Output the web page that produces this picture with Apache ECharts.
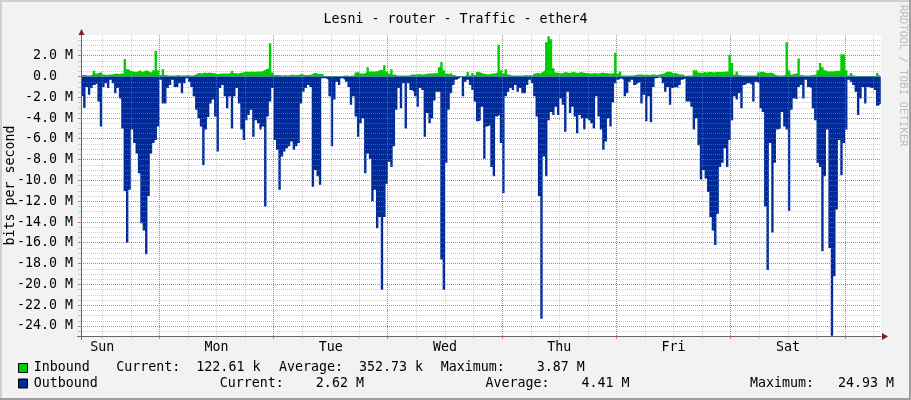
<!DOCTYPE html>
<html><head><meta charset="utf-8">
<script src="https://cdn.jsdelivr.net/npm/echarts@6/dist/echarts.min.js"></script>
<style>html,body{margin:0;padding:0;background:#F2F2F2}#c{width:911px;height:400px}</style>
</head><body><div id="c"></div><script>
// ---------- data ----------
const chartTitle = 'Lesni - router - Traffic - ether4';
const yAxisTitle = 'bits per second';
const watermark = 'RRDTOOL / TOBI OETIKER';
const dayLabels = ['Sun', 'Mon', 'Tue', 'Wed', 'Thu', 'Fri', 'Sat'];
const dayLabelHours = [12, 36, 60, 84, 108, 132, 156];     // noon of each day (hours after Sunday 00:00)
const midnightHours = [24, 48, 72, 96, 120, 144, 168];
const sixHourMarks = [12, 18, 30, 36, 42, 54, 60, 66, 78, 84, 90, 102, 108, 114, 126, 132, 138, 150, 156, 162, 174];
const viewStart = 7.55, viewEnd = 175.55;                   // hours after Sunday 00:00
const sampleStart = 7.5, sampleStep = 0.5;                  // 30-minute samples
// Inbound, Mbit/s
const inbound = [
0.15,0.15,0.1,0.1,0.2,0.55,0.3,0.4,0.4,0.2,
0.15,0.2,0.2,0.25,0.3,0.25,0.3,0.3,1.7,0.7,
0.55,0.5,0.45,0.5,0.6,0.45,0.55,0.6,0.45,0.4,
0.6,2.45,0.6,0.15,0.7,0.15,0.1,0.1,0.1,0.1,
0.15,0.1,0.1,0.1,0.15,0.1,0.1,0.15,0.3,0.35,
0.3,0.4,0.35,0.4,0.35,0.35,
0.25,0.25,0.3,0.3,0.3,0.3,0.35,0.55,0.35,0.3,
0.35,0.4,0.45,0.5,0.45,0.5,0.45,0.5,0.5,0.5,
0.6,0.7,0.8,3.2,0.4,0.15,0.15,0.15,0.1,0.15,
0.1,0.15,0.2,0.15,0.15,0.2,0.25,0.15,0.15,0.15,
0.2,0.35,0.35,0.25,0.25,0.25,0.05,0.05,0.05,0.05,
0.05,0.05,0.05,0.05,0.1,0.1,
0.05,0.1,0.1,0.4,0.5,0.3,0.3,0.4,0.9,0.5,
0.5,0.5,0.55,0.65,0.6,1.1,0.5,0.3,0.7,0.2,
0.1,0.1,0.1,0.1,0.1,0.1,0.2,0.2,0.2,0.25,
0.2,0.2,0.25,0.3,0.3,0.3,0.35,0.3,0.9,1.4,
0.6,0.3,0.25,0.4,0.15,0.05,0.05,0.05,0.05,0.1,
0.45,0.1,0.35,0.15,0.45,0.4,
0.3,0.25,0.2,0.25,0.3,0.3,0.4,3.05,0.6,0.3,
0.7,0.2,0.1,0.1,0.1,0.1,0.1,0.1,0.15,0.1,
0.15,0.1,0.3,0.35,0.3,0.45,0.6,3.3,3.87,3.6,
0.8,0.4,0.35,0.3,0.4,0.45,0.35,0.4,0.45,0.4,
0.35,0.45,0.4,0.35,0.35,0.3,0.3,0.35,0.3,0.3,
0.4,0.35,0.35,0.3,0.3,0.35,
2.3,0.3,0.5,0.1,0.1,0.1,0.1,0.1,0.15,0.2,
0.2,0.2,0.15,0.2,0.15,0.2,0.2,0.15,0.2,0.25,
0.3,0.45,0.5,0.45,0.3,0.35,0.25,0.2,0.2,0.05,
0.1,0.1,0.1,0.6,0.6,0.4,0.35,0.45,0.4,0.45,
0.45,0.4,0.45,0.45,0.45,0.45,0.5,0.5,2.1,1.3,
0.2,0.5,0.15,0.1,0.1,0.1,
0.1,0.1,0.1,0.1,0.4,0.5,0.45,0.35,0.35,0.4,
0.3,0.15,0.1,0.1,0.1,0.15,3.3,0.6,0.2,0.3,
0.3,1.75,0.15,0.1,0.1,0.1,0.15,0.15,0.25,0.6,
1.3,0.9,0.6,0.5,0.5,0.5,0.55,0.55,0.55,2.15,
2.1,0.6,0.1,0.35,0.1,0.05,0.05,0.05,0.05,0.05,
0.05,0.05,0.05,0.05,0.35,0.123
];
// Outbound, Mbit/s (drawn below zero)
const outbound = [
1.9,3.0,1.0,1.75,1.1,0.8,0.65,2.4,4.8,1.0,
0.65,1.1,0.3,0.65,1.6,1.1,2.1,5.0,11.0,16.0,
10.9,5.1,6.4,7.4,9.3,14.1,14.8,17.1,11.5,7.4,
6.4,6.1,4.8,0.3,2.6,2.6,1.1,0.8,0.3,1.0,
1.0,0.65,1.6,0.65,0.15,0.5,1.0,1.9,3.2,4.0,
4.8,8.5,5.1,3.9,2.6,2.2,
3.85,7.2,1.1,0.8,1.9,3.05,1.9,5.0,1.9,1.1,
2.6,5.1,6.1,4.2,3.7,3.2,5.8,4.2,4.5,5.1,
4.8,12.5,3.85,2.4,1.1,6.1,7.05,10.9,7.7,7.2,
6.9,6.7,6.25,7.05,6.7,6.4,2.6,1.45,1.1,0.8,
1.0,10.6,9.0,9.6,10.4,0.15,0.15,0.3,1.9,6.7,
2.2,0.5,0.8,0.15,0.3,0.5,
1.0,2.7,1.9,3.85,5.8,4.5,4.0,9.3,7.4,7.9,
12.0,10.9,14.6,13.5,20.5,13.5,10.3,8.2,8.7,6.7,
3.2,1.1,3.05,0.65,5.0,0.65,1.3,1.45,1.9,2.9,
1.1,1.3,5.8,3.5,4.5,4.0,2.3,1.45,1.45,17.6,
20.5,8.3,3.2,1.6,0.8,0.3,0.15,0.02,1.9,0.5,
0.3,0.8,1.3,2.4,4.3,4.2,
2.9,7.9,4.8,4.65,8.7,9.6,3.85,3.7,6.4,11.2,
1.9,1.45,1.1,1.3,0.8,1.45,1.1,1.6,1.6,0.8,
0.3,0.65,1.9,3.85,11.5,23.3,7.7,9.6,4.2,3.4,
3.7,2.9,3.7,2.1,2.7,5.3,1.45,3.5,2.9,3.85,
5.45,3.7,4.0,5.1,4.0,4.2,4.5,5.0,1.9,3.85,
5.1,7.05,6.25,4.0,4.8,2.5,
0.65,0.3,0.15,0.3,1.9,1.6,0.5,0.3,0.8,0.65,
0.5,2.6,1.75,4.3,1.9,4.4,1.0,0.15,0.06,0.15,
0.65,1.45,1.0,2.7,1.1,1.0,1.1,0.8,0.3,0.15,
2.4,2.4,2.9,5.1,4.0,6.6,9.9,9.0,9.8,11.1,
13.5,14.8,16.2,13.2,8.7,8.3,6.9,8.7,6.1,4.2,
1.9,2.2,1.6,3.05,0.8,0.65,
0.65,0.8,2.4,0.5,0.65,3.05,3.4,12.5,18.6,6.4,
15.0,8.3,5.1,5.0,3.4,4.8,5.1,12.9,3.2,2.1,
2.2,1.0,0.8,2.1,0.3,1.0,1.1,3.05,4.2,8.3,
8.7,16.8,9.6,5.1,16.5,24.93,19.2,12.8,6.1,9.5,
6.4,5.1,0.3,0.5,0.8,1.45,3.7,2.1,1.0,2.6,
1.0,1.1,1.1,1.3,2.8,2.62
];
const yMajorTicks = [2, 0, -2, -4, -6, -8, -10, -12, -14, -16, -18, -20, -22, -24];
const yMinorTicks = [3.5, 3, 2.5, 1.5, 1, 0.5, -0.5, -1, -1.5, -2.5, -3, -3.5, -4.5, -5, -5.5, -6.5, -7, -7.5,
  -8.5, -9, -9.5, -10.5, -11, -11.5, -12.5, -13, -13.5, -14.5, -15, -15.5, -16.5, -17, -17.5, -18.5, -19, -19.5,
  -20.5, -21, -21.5, -22.5, -23, -23.5, -24.5];
const yMin = -24.96, yMax = 4.0;
const legendRows = [
  { name: 'Inbound',  color: '#00CC00', current: 'Current:  122.61 k', average: 'Average:  352.73 k', maximum: 'Maximum:    3.87 M' },
  { name: 'Outbound', color: '#002A97', current: 'Current:    2.62 M', average: 'Average:    4.41 M', maximum: 'Maximum:   24.93 M' }
];

(function () {
// ---------- styles ----------
const FONT = 'DejaVu Sans Mono';
const FS = 13.3;
const minorColor = 'rgba(150,150,150,0.45)';
const majorColor = 'rgba(225,70,70,0.8)';
const axisColor = '#666';
const arrowColor = '#801F1F';

function toPairs(arr, sign) {
  const d = arr.map((v, i) => [sampleStart + i * sampleStep, sign * v]);
  d.push([sampleStart + arr.length * sampleStep, sign * arr[arr.length - 1]]);
  return d;
}

const chart = echarts.init(document.getElementById('c'), null, { renderer: 'canvas' });
const option = {
  animation: false,
  backgroundColor: '#F2F2F2',
  title: {
    text: chartTitle, left: 'center', top: 8,
    textStyle: { fontFamily: FONT, fontSize: FS, fontWeight: 'normal', color: '#000' }
  },
  grid: { left: 81, top: 35, width: 800, height: 301, show: true, backgroundColor: '#FFFFFF', borderWidth: 0, outerBoundsMode: 'none' },
  xAxis: [
    {
      type: 'value', min: viewStart, max: viewEnd, z: 10,
      axisLine: { show: true, onZero: false, lineStyle: { color: axisColor, width: 1 } },
      axisTick: { show: true, length: 3, customValues: sixHourMarks, lineStyle: { color: minorColor } },
      axisLabel: { show: true, customValues: dayLabelHours, margin: 5, fontFamily: FONT, fontSize: FS, color: '#000',
        formatter: v => dayLabels[Math.round((v - 12) / 24)] },
      splitLine: { show: true, lineStyle: { color: minorColor, width: 1, type: [1, 1] } }
    }
  ],
  yAxis: [
    {
      type: 'value', min: yMin, max: yMax, z: 10,
      axisLine: { show: true, onZero: false, lineStyle: { color: axisColor, width: 1 } },
      axisTick: { show: true, length: 3, customValues: yMinorTicks, lineStyle: { color: minorColor } },
      axisLabel: { show: false },
      splitLine: { show: true, lineStyle: { color: minorColor, width: 1, type: [1, 1] } }
    },
    {
      type: 'value', min: yMin, max: yMax, z: 10, position: 'left',
      axisLine: { show: false },
      axisTick: { show: false, customValues: yMajorTicks },
      axisLabel: { show: true, customValues: yMajorTicks, margin: 8, fontFamily: FONT, fontSize: FS, color: '#000',
        formatter: v => (Math.abs(v) < 1e-9 ? '0.0\u00a0\u00a0' : v.toFixed(1) + ' M') },
      splitLine: { show: false }
    }
  ],
  series: [
    { name: 'Inbound', type: 'line', xAxisIndex: 0, yAxisIndex: 0, step: 'end', data: toPairs(inbound, 1),
      symbol: 'none', showSymbol: false, silent: true, z: 2,
      lineStyle: { width: 0 }, areaStyle: { color: legendRows[0].color, opacity: 1, origin: 0 } },
    { name: 'Outbound', type: 'line', xAxisIndex: 0, yAxisIndex: 0, step: 'end', data: toPairs(outbound, -1),
      symbol: 'none', showSymbol: false, silent: true, z: 2,
      lineStyle: { width: 0 }, areaStyle: { color: legendRows[1].color, opacity: 1, origin: 0 } }
  ]
};
chart.setOption(option);

// decorations positioned through the chart's own scales
const px = (x, y) => chart.convertToPixel({ xAxisIndex: 0, yAxisIndex: 0 }, [x, y]);
const pTL = px(viewStart, yMax);
const pBR = px(viewEnd, yMin);
const gL = Math.round(pTL[0]), gT = Math.round(pTL[1]), gR = Math.round(pBR[0]), gB = Math.round(pBR[1]);
const txt = (t, x, y, extra) => ({ type: 'text', x: x, y: y, silent: true, z: 20,
  style: Object.assign({ text: t, fontFamily: FONT, fontSize: FS, fill: '#000', verticalAlign: 'middle', align: 'left' }, extra || {}) });

const graphics = [
  { type: 'rect', silent: true, shape: { x: 0, y: 0, width: 911, height: 2 }, style: { fill: '#CFCFCF' } },
  { type: 'rect', silent: true, shape: { x: 0, y: 0, width: 2, height: 400 }, style: { fill: '#CFCFCF' } },
  { type: 'rect', silent: true, shape: { x: 0, y: 398, width: 911, height: 2 }, style: { fill: '#9E9E9E' } },
  { type: 'rect', silent: true, shape: { x: 909, y: 0, width: 2, height: 400 }, style: { fill: '#9E9E9E' } }
];
// major grid (midnights and every 2 M), placed with the chart's scales
midnightHours.forEach(h => {
  const x = Math.floor(px(h, 0)[0]) + 0.5;
  graphics.push({ type: 'line', silent: true, z: 15, shape: { x1: x, y1: gT, x2: x, y2: gB }, style: { stroke: majorColor, lineWidth: 1, lineDash: [1, 1] } });
  graphics.push({ type: 'line', silent: true, z: 15, shape: { x1: x, y1: gB, x2: x, y2: gB + 3 }, style: { stroke: majorColor, lineWidth: 1 } });
});
yMajorTicks.forEach(v => {
  const y = Math.floor(px(viewStart, v)[1]) + 0.5;
  graphics.push({ type: 'line', silent: true, z: 15, shape: { x1: gL, y1: y, x2: gR, y2: y }, style: { stroke: majorColor, lineWidth: 1, lineDash: [1, 1] } });
  graphics.push({ type: 'line', silent: true, z: 15, shape: { x1: gL - 3, y1: y, x2: gL, y2: y }, style: { stroke: majorColor, lineWidth: 1 } });
});
graphics.push(
  { type: 'line', silent: true, z: 20, shape: { x1: gL - 4, y1: gB + 0.5, x2: gL, y2: gB + 0.5 }, style: { stroke: axisColor, lineWidth: 1 } },
  { type: 'line', silent: true, z: 20, shape: { x1: gL + 0.5, y1: gB, x2: gL + 0.5, y2: gB + 4 }, style: { stroke: axisColor, lineWidth: 1 } },
  { type: 'polygon', silent: true, z: 20, shape: { points: [[gR + 1, gB - 3], [gR + 7, gB + 0.5], [gR + 1, gB + 4]] }, style: { fill: arrowColor } },
  { type: 'polygon', silent: true, z: 20, shape: { points: [[gL - 2.5, gT], [gL + 0.5, gT - 6], [gL + 3.5, gT]] }, style: { fill: arrowColor } }
);
const yTitle = txt(yAxisTitle, 11, (gT + gB) / 2, { align: 'center' });
yTitle.rotation = Math.PI / 2;
graphics.push(yTitle);
const wm = txt(watermark, 903, 5, { fontSize: 10.7, fill: '#BDBDBD' });
wm.rotation = -Math.PI / 2;
graphics.push(wm);

const legendY = [368, 383.5];
const legendX = { box: 18, name: 33.7, cols: [[116.3, 219.8], [279, 485.5], [440.7, 750]] };
legendRows.forEach((r, k) => {
  const y = legendY[k];
  graphics.push({ type: 'rect', silent: true, z: 20, shape: { x: legendX.box + 0.5, y: y - 4.5, width: 9, height: 9 }, style: { fill: r.color, stroke: '#000', lineWidth: 1 } });
  graphics.push(txt(r.name, legendX.name, y));
  graphics.push(txt(r.current, legendX.cols[0][k], y));
  graphics.push(txt(r.average, legendX.cols[1][k], y));
  graphics.push(txt(r.maximum, legendX.cols[2][k], y));
});
chart.setOption({ graphic: graphics });
})();
</script></body></html>
